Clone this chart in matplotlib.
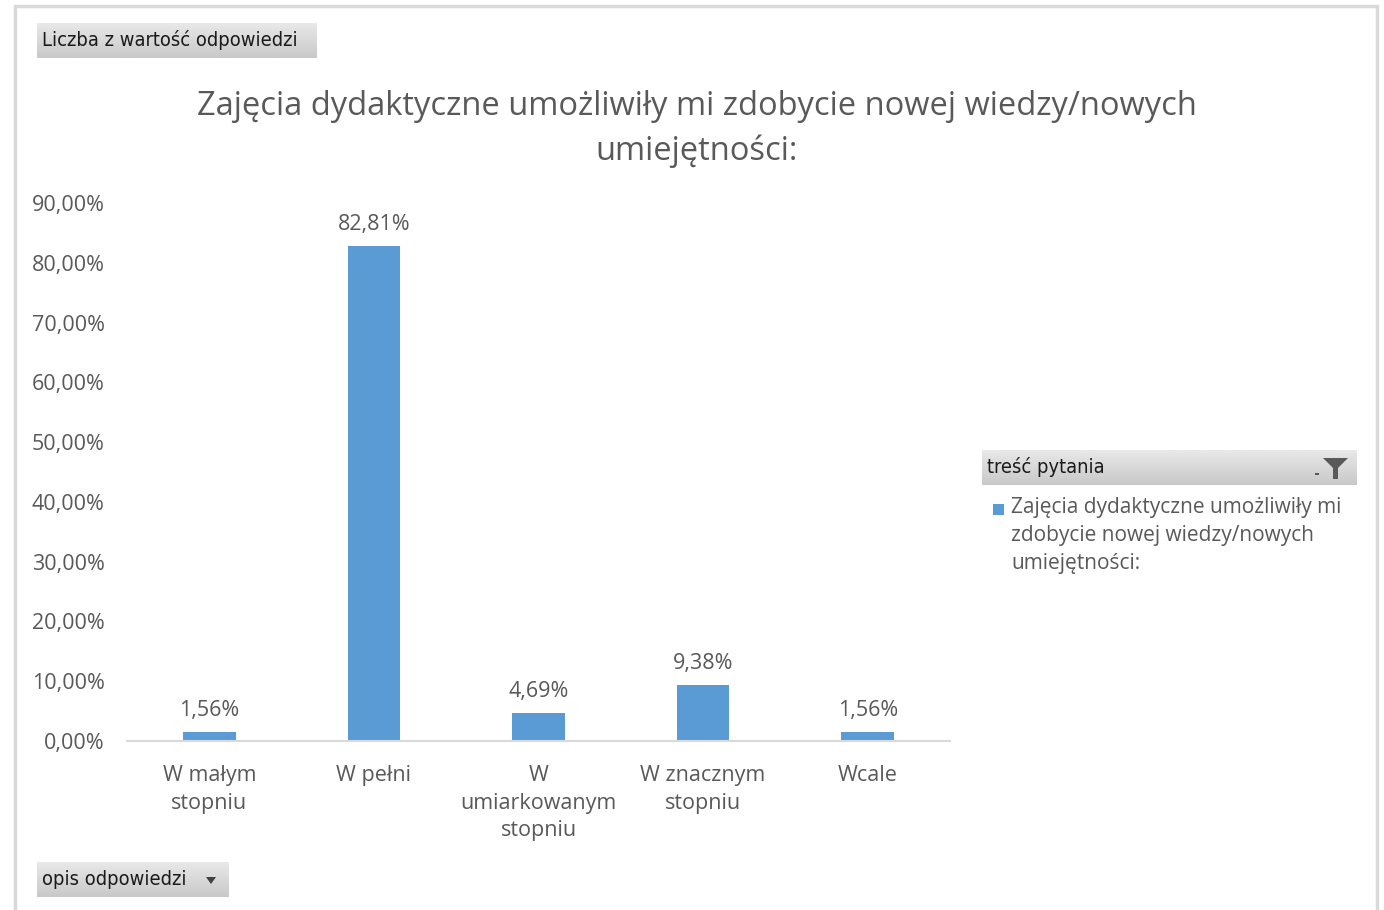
import matplotlib
matplotlib.use("Agg")
import matplotlib.pyplot as plt
import numpy as np
from matplotlib.patches import Rectangle, Polygon
from matplotlib.ticker import FuncFormatter

# data
categories = ["W małym\nstopniu", "W pełni", "W\numiarkowanym\nstopniu",
              "W znacznym\nstopniu", "Wcale"]
shares = [1.56, 82.81, 4.69, 9.38, 1.56]
yticks = [0, 10, 20, 30, 40, 50, 60, 70, 80, 90]

title = "Zajęcia dydaktyczne umożliwiły mi zdobycie nowej wiedzy/nowych\numiejętności:"
legend_label = "Zajęcia dydaktyczne umożliwiły mi\nzdobycie nowej wiedzy/nowych\numiejętności:"

W, H = 1384, 910
BAR = "#5B9BD5"
TXT = "#595959"
plt.rcParams["font.family"] = ["Open Sans", "DejaVu Sans"]


def fx(x):
    return x / W


def fy(y):
    return 1 - y / H


def pl(v):
    return f"{v:.2f}".replace(".", ",") + "%"


fig = plt.figure(figsize=(W / 100, H / 100), dpi=100, facecolor="white")

# outer frame of the chart object
frame = Rectangle((fx(15), fy(915)), fx(1377 - 15), (915 - 6) / H, transform=fig.transFigure,
                  fill=False, edgecolor="#d9d9d9", linewidth=2.5)
fig.patches.append(frame)

ax = fig.add_axes([fx(127), fy(741), fx(950 - 127), (741 - 203) / H])
x = range(len(categories))
bars = ax.bar(x, shares, width=0.32, color=BAR, zorder=2)
ax.set_xlim(-0.5, len(categories) - 0.5)
ax.set_ylim(0, 90)
ax.set_yticks(yticks)
ax.yaxis.set_major_formatter(FuncFormatter(lambda v, _: pl(v)))
ax.set_xticks(list(x))
ax.set_xticklabels(categories, linespacing=1.4)
ax.tick_params(axis="both", length=0, labelsize=15.5, colors=TXT)
ax.tick_params(axis="x", pad=17.5)
ax.tick_params(axis="y", pad=16)
for s in ("top", "right", "left"):
    ax.spines[s].set_visible(False)
ax.spines["bottom"].set_color("#d9d9d9")
ax.spines["bottom"].set_linewidth(1.5)

for b, v in zip(bars, shares):
    ax.annotate(pl(v), (b.get_x() + b.get_width() / 2, v), xytext=(0, 8),
                textcoords="offset points", ha="center", va="bottom",
                fontsize=15.5, color=TXT)

fig.text(fx(697), fy(129), title, ha="center", va="center", fontsize=23.5,
         color=TXT, linespacing=1.45)


# pivot buttons with a soft vertical gradient
def button(x0, y0, x1, y1, label):
    bax = fig.add_axes([fx(x0), fy(y1), fx(x1 - x0), (y1 - y0) / H], zorder=0)
    grad = np.linspace(0, 1, 32).reshape(-1, 1)
    bax.imshow(grad, aspect="auto", cmap=matplotlib.colors.LinearSegmentedColormap.from_list(
        "btn", ["#e8e8e8", "#c9c9c9"]), extent=(0, 1, 0, 1), origin="upper")
    bax.set_axis_off()
    fig.text(fx(x0 + 5), fy((y0 + y1) / 2), label, ha="left", va="center",
             fontsize=14.4, color="#1a1a1a", family=["DejaVu Sans"], fontstretch="condensed",
             zorder=5)

button(37, 23, 317, 58, "Liczba z wartość odpowiedzi")
button(37, 862, 229, 897, "opis odpowiedzi")
fig.patches.append(Polygon([(fx(206), fy(877)), (fx(216), fy(877)), (fx(211), fy(884))],
                           closed=True, transform=fig.transFigure, facecolor="#404040",
                           edgecolor="none", zorder=6))

# legend header with filter icon
button(982, 450, 1357, 485, "treść pytania")
fig.patches.append(Polygon([(fx(1323), fy(458)), (fx(1348), fy(458)), (fx(1338), fy(468)),
                            (fx(1338), fy(479)), (fx(1333), fy(479)), (fx(1333), fy(468))],
                           closed=True, transform=fig.transFigure, facecolor="#595959",
                           edgecolor="none", zorder=6))
fig.patches.append(Rectangle((fx(1315), fy(475)), fx(4), 2 / H, transform=fig.transFigure,
                             facecolor="#595959", edgecolor="none", zorder=6))

# legend entry
fig.patches.append(Rectangle((fx(993), fy(515)), fx(11), 11 / H, transform=fig.transFigure,
                             facecolor=BAR, edgecolor="none"))
fig.text(fx(1011), fy(497), legend_label, ha="left", va="top", fontsize=15,
         color=TXT, linespacing=1.45)

fig.savefig("out.png", dpi=100, facecolor="white")
